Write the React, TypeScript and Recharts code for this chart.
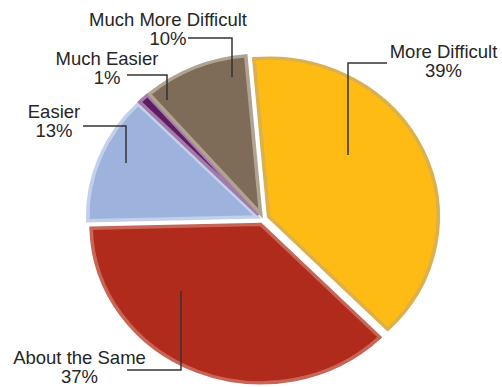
import React from 'react';
import { PieChart, Pie, Cell, Sector } from 'recharts';

const categories = ['More Difficult', 'About the Same', 'Easier', 'Much Easier', 'Much More Difficult'];
const percents = [39, 37, 13, 1, 10];
const fills = ['#FDBB14', '#B12B1D', '#9DB3DD', '#5F1B64', '#7E6B58'];
const rims = ['#DDB04E', '#C76656', '#C3D0EA', '#A27BAA', '#B1A391'];

// label layout: text centre and leader polyline, relative to pie centre
const LABEL_LAYOUT = [
  { tx: 180.5, ty: -161.5, pts: [[124, -156], [85, -156], [85, -64]] },
  { tx: -183.5, ty: 144.5, pts: [[-136, 151], [-82, 151], [-82, 72]] },
  { tx: -209, ty: -101.5, pts: [[-180, -93], [-137, -93], [-137, -56]] },
  { tx: -156, ty: -154.5, pts: [[-136, -144], [-96, -144], [-96, -119]] },
  { tx: -95, ty: -193.5, pts: [[-75, -181], [-31, -181], [-31, -142]] },
];

const EXPLODE = 6;
const SX = 1.034;
const SY = 0.966;

const data = categories.map((name, i) => ({ name, value: percents[i] }));

const ExplodedSector = (props: any) => {
  const { cx, cy, midAngle } = props;
  const rad = (-midAngle * Math.PI) / 180;
  const dx = EXPLODE * Math.cos(rad);
  const dy = EXPLODE * Math.sin(rad);
  return (
    <g transform={`translate(${cx},${cy}) scale(${SX},${SY}) translate(${-cx},${-cy})`}>
      <Sector {...props} cx={cx + dx} cy={cy + dy} strokeWidth={3.5} strokeLinejoin="miter" />
    </g>
  );
};

const renderLabel = (props: any) => {
  const { cx, cy, index } = props;
  const L = LABEL_LAYOUT[index];
  const pts = L.pts.map((p) => `${cx + p[0]},${cy + p[1]}`).join(' ');
  const x = cx + L.tx;
  const font = { textAnchor: 'middle' as const, fontFamily: "'Liberation Sans', Arial, sans-serif", fontSize: 18.5, fill: '#262626' };
  return (
    <g key={`lbl-${index}`}>
      <polyline points={pts} fill="none" stroke="#333333" strokeWidth={1.5} />
      <text x={x} y={cy + L.ty} {...font}>{categories[index]}</text>
      <text x={x} y={cy + L.ty + 19} {...font}>{`${percents[index]}%`}</text>
    </g>
  );
};

export default function App() {
  return (
    <div style={{ position: 'absolute', left: 0, top: 0, width: 502, height: 387, background: '#ffffff' }}>
      <PieChart width={502} height={387} margin={{ top: 0, right: 0, bottom: 0, left: 0 }}>
        <Pie
          data={data}
          dataKey="value"
          nameKey="name"
          cx={263}
          cy={219}
          outerRadius={164}
          startAngle={95}
          endAngle={-265}
          isAnimationActive={false}
          shape={ExplodedSector}
          activeShape={ExplodedSector}
          label={renderLabel}
          labelLine={false}
        >
          {data.map((d, i) => (
            <Cell key={d.name} fill={fills[i]} stroke={rims[i]} />
          ))}
        </Pie>
      </PieChart>
    </div>
  );
}
